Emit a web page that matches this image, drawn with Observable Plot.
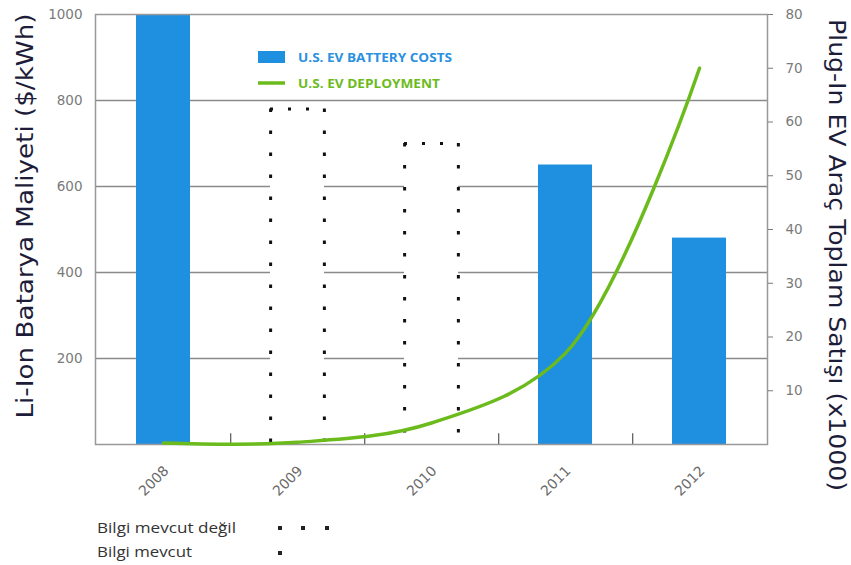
<!DOCTYPE html>
<html><head><meta charset="utf-8">
<script src="https://cdn.jsdelivr.net/npm/d3@7"></script>
<script src="https://cdn.jsdelivr.net/npm/@observablehq/plot@0.6"></script>
<style>
body{margin:0;background:#fff;}
#wrap{position:relative;width:851px;height:565px;overflow:hidden;}
#wrap svg{position:absolute;left:0;top:0;}
</style></head><body>
<div id="wrap"></div>
<script>
// ---- data ----
const years = ["2008", "2009", "2010", "2011", "2012"];
const batteryCost = [1000, null, null, 650, 480];      // $/kWh (bars)
const notAvailable = [null, 780, 700, null, null];     // dotted "Bilgi mevcut değil" boxes
const deployment = [0.3, 0.4, 4, 17, 70];              // cumulative plug-in sales (x1000)
const leftTicks = [200, 400, 600, 800, 1000];
const rightTicks = [10, 20, 30, 40, 50, 60, 70, 80];

const k = 1000 / 80; // right axis -> left axis units
const W = 851, H = 565, mL = 95, mR = 84, mT = 14, mB = 121;
const step = (W - mL - mR) / (years.length - 0.6 + 0.6);
const bw = step * 0.4;

const costData = years.map((y, i) => ({year: y, v: batteryCost[i]})).filter(d => d.v != null);
const naData = years.map((y, i) => ({year: y, v: notAvailable[i]})).filter(d => d.v != null);
const depData = years.map((y, i) => ({year: y, v: deployment[i]}));

const dotted = {stroke: "#111", strokeWidth: 3, strokeDasharray: "3.5,18.5"};

const chart = Plot.plot({
  width: W, height: H, marginLeft: mL, marginRight: mR, marginTop: mT, marginBottom: mB,
  style: {fontFamily: "'DejaVu Sans', sans-serif", fontSize: "13.5px", background: "transparent"},
  x: {type: "band", domain: years, paddingInner: 0.6, paddingOuter: 0.3, axis: null},
  y: {domain: [0, 1000], axis: null},
  marks: [
    Plot.ruleY(leftTicks.filter(v => v < 1000), {stroke: "#8a8a8a", strokeWidth: 1.5}),
    Plot.barY(costData, {x: "year", y: "v", fill: "#1f8fe0"}),
    Plot.barY(naData, {x: "year", y: "v", fill: "white"}),
    Plot.ruleX(naData, {x: "year", y1: "v", y2: 0, dx: -bw / 2, ...dotted}),
    Plot.ruleX(naData, {x: "year", y1: "v", y2: 0, dx: bw / 2, ...dotted}),
    Plot.tickY(naData, {x: "year", y: "v", stroke: "#111", strokeWidth: 3, strokeDasharray: "3,15"}),
    Plot.ruleX(years.slice(0, -1), {x: d => d, dx: step / 2, y1: 0, y2: 25, stroke: "#555", strokeWidth: 1.2}),
    Plot.frame({stroke: "#999", strokeWidth: 1.5}),
    Plot.line(depData, {x: "year", y: d => d.v * k, stroke: "#6cbb1c", strokeWidth: 3.5, curve: "catmull-rom"}),
    Plot.axisY(leftTicks, {anchor: "left", tickSize: 0, tickPadding: 13, tickFormat: d3.format("d"), color: "#7a7a7a", label: null}),
    Plot.axisY(rightTicks.map(v => v * k), {anchor: "right", tickSize: 5, tickPadding: 13, tickFormat: d => d / k, color: "#7a7a7a", label: null}),
    Plot.axisX(years, {anchor: "bottom", tickSize: 0, tickPadding: 24, tickRotate: -45, dx: 3, fontSize: 14, color: "#6a6a6a", label: null})
  ]
});
document.getElementById("wrap").appendChild(chart);

// ---- titles & legends (overlay) ----
const ov = `
<svg width="851" height="565" xmlns="http://www.w3.org/2000/svg" style="pointer-events:none">
  <g font-family="'DejaVu Sans', sans-serif" fill="#1d1d3a" font-size="22.5">
    <text transform="translate(33,216) rotate(-90)" text-anchor="middle" textLength="405" lengthAdjust="spacingAndGlyphs">Li-Ion Batarya Maliyeti ($/kWh)</text>
    <text transform="translate(829,255) rotate(90)" text-anchor="middle" textLength="472" lengthAdjust="spacingAndGlyphs">Plug-In EV Araç Toplam Satışı (x1000)</text>
  </g>
  <rect x="258" y="51" width="27" height="12" fill="#1f8fe0"/>
  <line x1="258" x2="285" y1="83" y2="83" stroke="#6cbb1c" stroke-width="3.5"/>
  <g font-family="'Open Sans', sans-serif" font-weight="bold" font-size="12">
    <text x="298" y="62" fill="#2a90e0" textLength="154" lengthAdjust="spacingAndGlyphs">U.S. EV BATTERY COSTS</text>
    <text x="298" y="88" fill="#6cbb1c" textLength="142" lengthAdjust="spacingAndGlyphs">U.S. EV DEPLOYMENT</text>
  </g>
  <g font-family="'Open Sans', sans-serif" font-size="15" fill="#333">
    <text x="97" y="533" textLength="139" lengthAdjust="spacingAndGlyphs">Bilgi mevcut değil</text>
    <text x="97" y="557" textLength="95" lengthAdjust="spacingAndGlyphs">Bilgi mevcut</text>
  </g>
  <g fill="#222">
    <rect x="278" y="526" width="4" height="4"/>
    <rect x="301" y="526" width="4" height="4"/>
    <rect x="325" y="526" width="4" height="4"/>
    <rect x="278" y="551" width="4" height="4"/>
  </g>
</svg>`;
document.getElementById("wrap").insertAdjacentHTML("beforeend", ov);
</script>
</body></html>
